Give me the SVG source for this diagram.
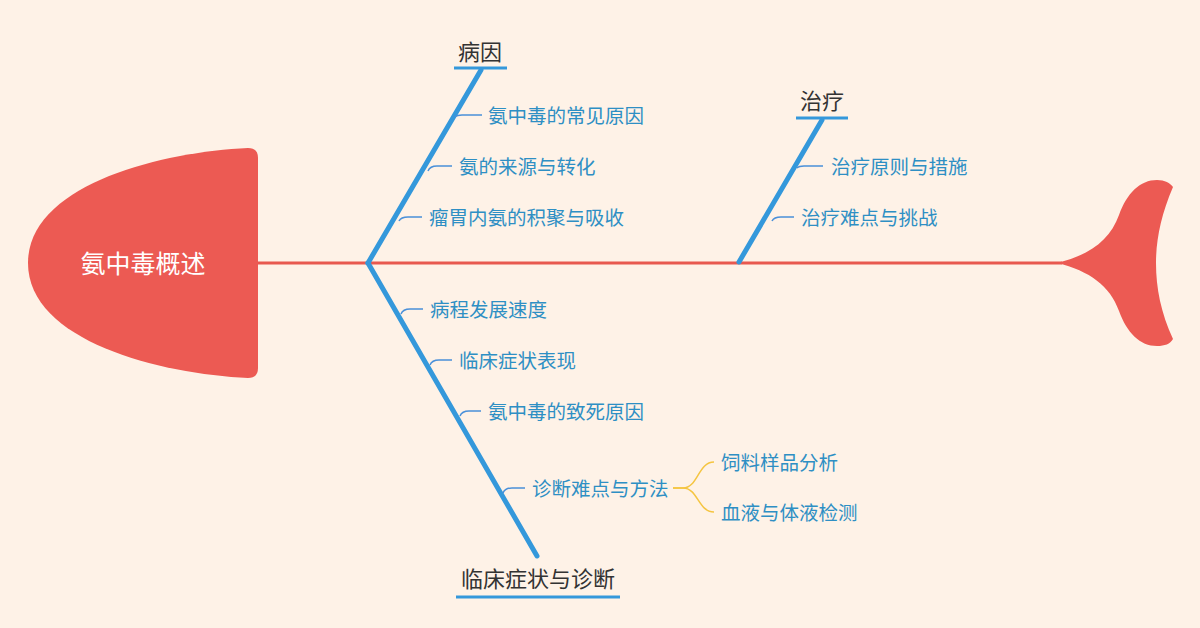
<svg xmlns="http://www.w3.org/2000/svg" width="1200" height="628" viewBox="0 0 1200 628">
<style>
text{font-family:"Noto Sans CJK SC","Noto Sans",sans-serif;dominant-baseline:central}
.title{font-size:22px;fill:#333333;text-anchor:middle}
.sub{font-size:19.5px;fill:#2e8fc4}
.branch{stroke:#3498db;stroke-width:5;stroke-linecap:round;fill:none}
.uline{stroke:#3498db;stroke-width:3;fill:none}
.conn{stroke:#4a90d9;stroke-width:1.5;fill:none}
.yconn{stroke:#f5c542;stroke-width:1.5;fill:none}
</style>
<rect width="1200" height="628" fill="#fef2e7"/>
<g id="connectors">
<line x1="258" y1="263" x2="1062" y2="263" stroke="#e8594f" stroke-width="3"/>
<line class="branch" x1="368" y1="263" x2="481" y2="70"/>
<line class="branch" x1="368" y1="263" x2="537" y2="556"/>
<line class="branch" x1="739" y1="262" x2="822" y2="120"/>
<path class="conn" d="M455,117 Q457,115 462,115 L482,115"/>
<path class="conn" d="M428,171 Q430,166 437,166 L452,166"/>
<path class="conn" d="M399,221 Q401,217 408,217 L422,217"/>
<path class="conn" d="M401,314 Q403,309 410,309 L423,309"/>
<path class="conn" d="M430,365 Q432,360 439,360 L452,360"/>
<path class="conn" d="M460,416 Q462,411 469,411 L481,411"/>
<path class="conn" d="M503,493 Q505,488 512,488 L525,488"/>
<path class="conn" d="M797,168 Q799,166 804,166 L823,166"/>
<path class="conn" d="M772,221 Q774,217 781,217 L794,217"/>
<path class="yconn" d="M673,488 L683,488 C698,488 698,462 714,462"/>
<path class="yconn" d="M673,488 L683,488 C698,488 698,512 714,512"/>
</g>
<g id="head">
<path d="M248,148 C160,152 28,185 28,263 C28,341 160,374 248,378 Q258,378 258,368 L258,158 Q258,148 248,148 Z" fill="#ec5a53"/>
<text x="143" y="262" font-size="25" fill="#ffffff" text-anchor="middle">氨中毒概述</text>
</g>
<g id="tail">
<path d="M1057,263 C1090,255 1110,240 1119,215 C1127,193 1140,180 1157,180 C1165,180 1170,183 1173,187 C1161,215 1156,240 1156,263 C1156,288 1161,313 1173,339 C1170,344 1165,346 1157,346 C1140,346 1127,333 1119,311 C1110,286 1090,271 1057,263 Z" fill="#ec5a53"/>
</g>
<g id="cause">
<line class="uline" x1="454" y1="68" x2="507" y2="68"/>
<text class="title" x="480" y="50">病因</text>
</g>
<g id="cause-1"><text class="sub" x="488" y="114">氨中毒的常见原因</text></g>
<g id="cause-2"><text class="sub" x="459" y="165">氨的来源与转化</text></g>
<g id="cause-3"><text class="sub" x="429" y="216">瘤胃内氨的积聚与吸收</text></g>
<g id="treat">
<line class="uline" x1="796" y1="118" x2="848" y2="118"/>
<text class="title" x="822" y="99">治疗</text>
</g>
<g id="treat-1"><text class="sub" x="831" y="165">治疗原则与措施</text></g>
<g id="treat-2"><text class="sub" x="801" y="216">治疗难点与挑战</text></g>
<g id="clinic">
<line class="uline" x1="456" y1="597" x2="620" y2="597"/>
<text class="title" x="538" y="577">临床症状与诊断</text>
</g>
<g id="clinic-1"><text class="sub" x="430" y="308">病程发展速度</text></g>
<g id="clinic-2"><text class="sub" x="459" y="359">临床症状表现</text></g>
<g id="clinic-3"><text class="sub" x="488" y="410">氨中毒的致死原因</text></g>
<g id="clinic-4"><text class="sub" x="532" y="487">诊断难点与方法</text></g>
<g id="diag-1"><text class="sub" x="721" y="461">饲料样品分析</text></g>
<g id="diag-2"><text class="sub" x="721" y="511">血液与体液检测</text></g>
</svg>
